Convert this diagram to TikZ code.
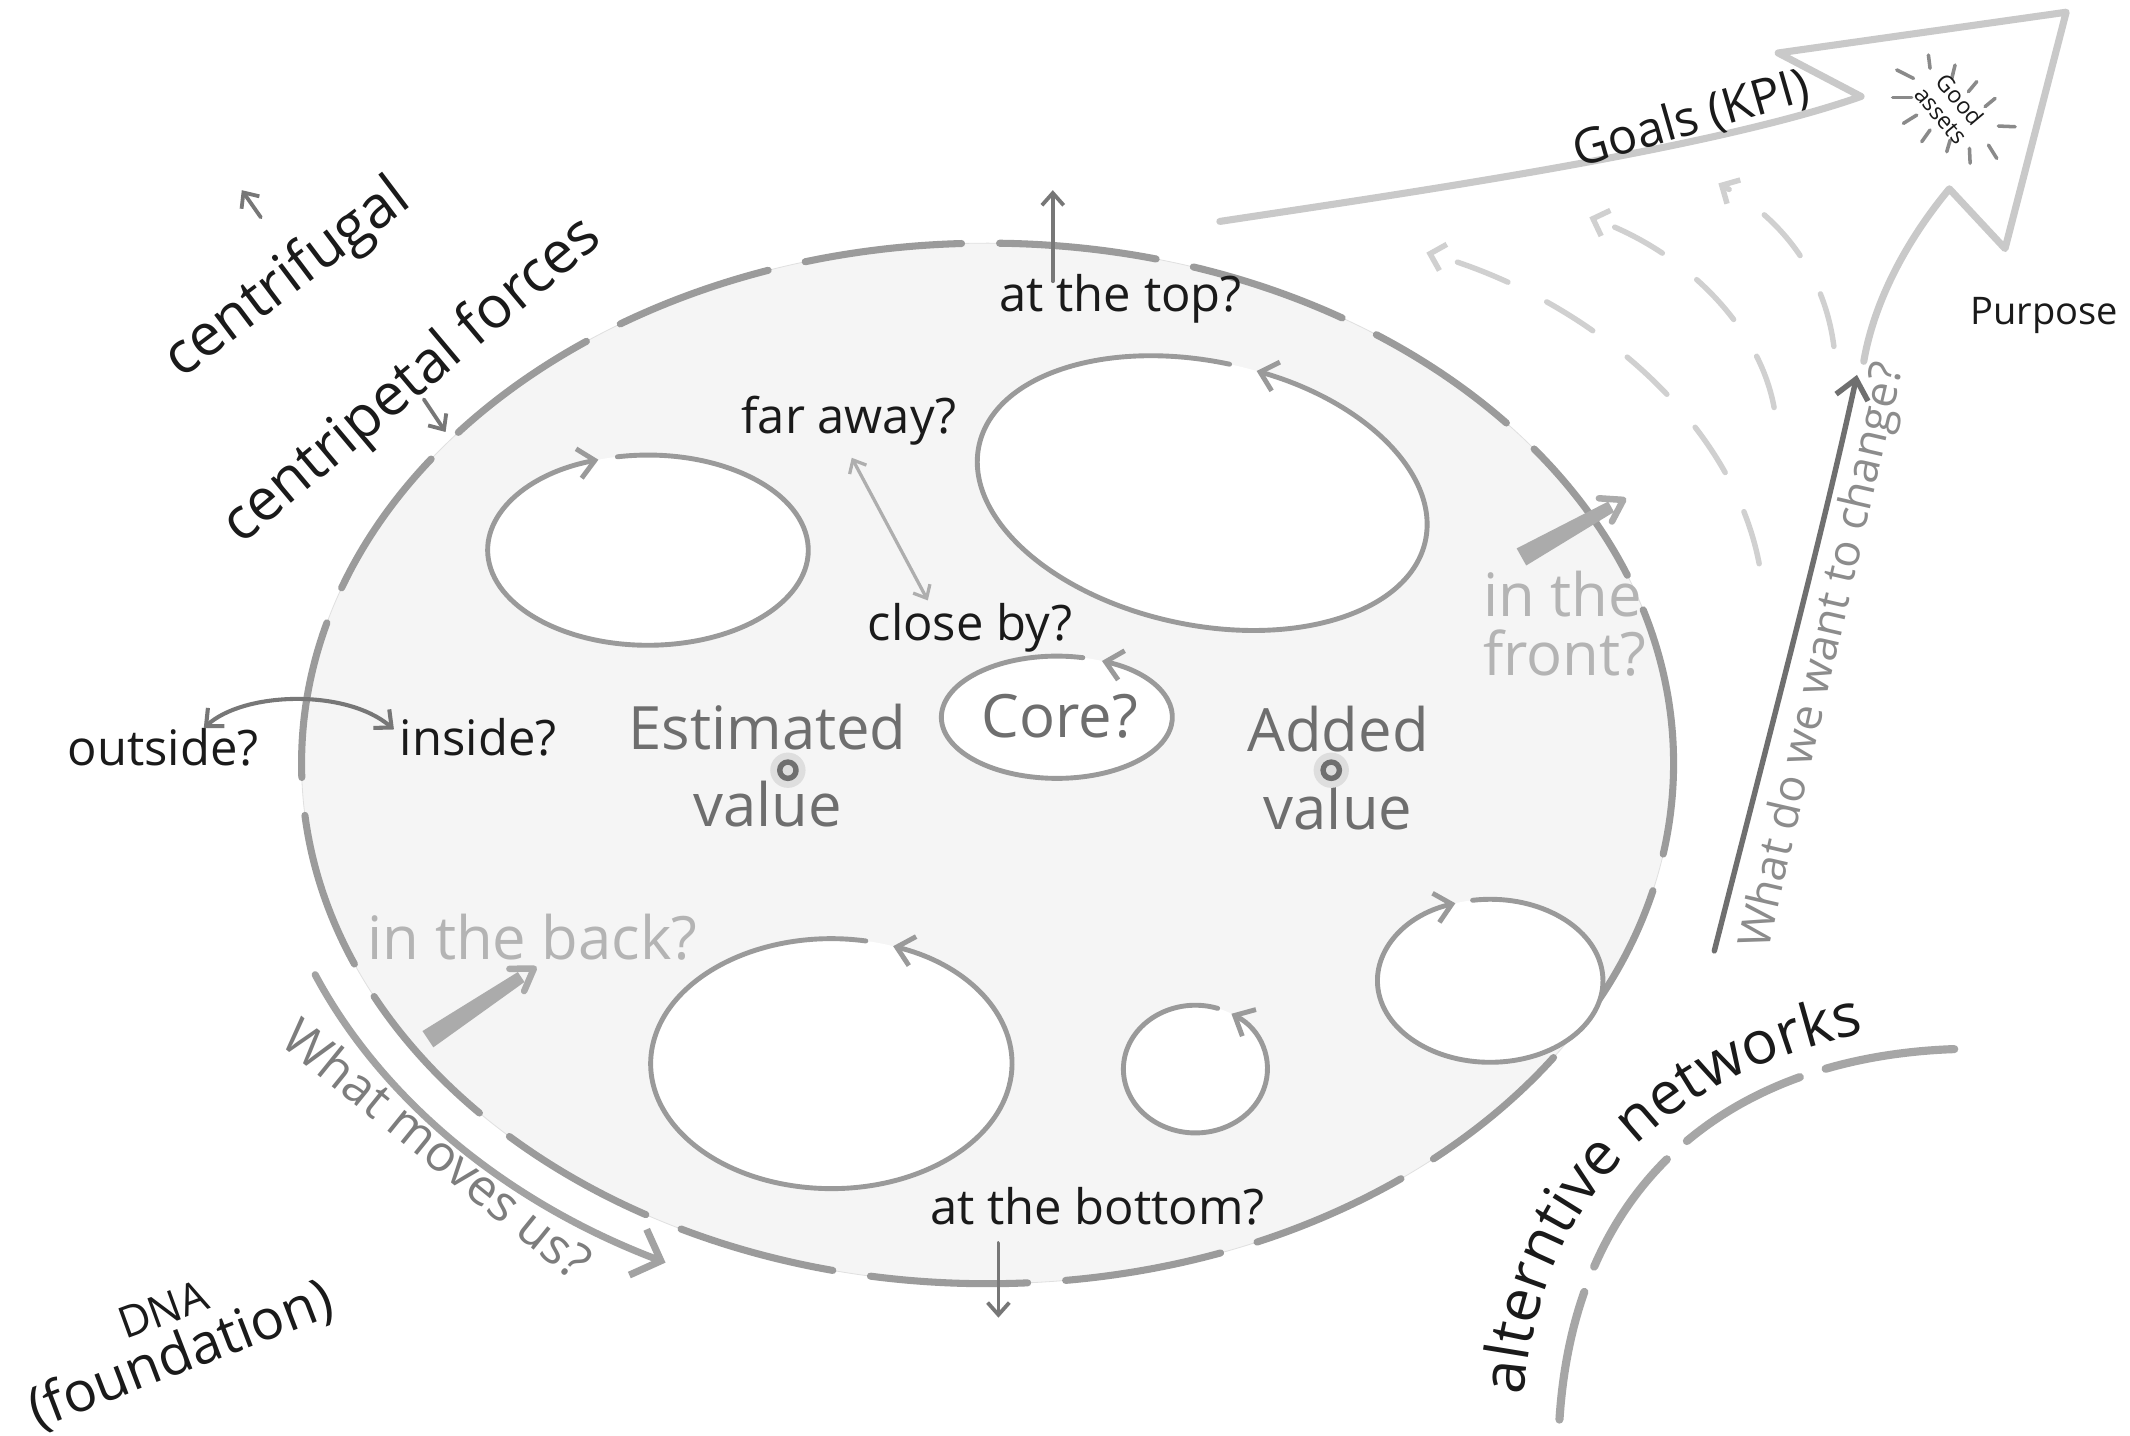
\documentclass[tikz,border=0pt]{standalone}
\usepackage{fontspec}
\setmainfont{Open Sans}
\usetikzlibrary{arrows.meta,calc,decorations.text}
\definecolor{ink}{HTML}{1A1A1A}
\definecolor{midtxt}{HTML}{6E6E6E}
\definecolor{lighttxt}{HTML}{B4B4B4}
\definecolor{movetxt}{HTML}{7D7D7D}
\definecolor{changetxt}{HTML}{8C8C8C}
\definecolor{fillgray}{HTML}{F5F5F5}
\definecolor{rimgray}{HTML}{9B9B9B}
\definecolor{loopgray}{HTML}{9A9A9A}
\definecolor{goalgray}{HTML}{C9C9C9}
\definecolor{fangray}{HTML}{D0D0D0}
\definecolor{darkline}{HTML}{6F6F6F}
\definecolor{arrgray}{HTML}{777777}
\definecolor{movegray}{HTML}{A2A2A2}
\definecolor{altgray}{HTML}{A6A6A6}
\definecolor{wedgegray}{HTML}{ABABAB}
\definecolor{halogray}{HTML}{DEDEDE}
\definecolor{raygray}{HTML}{8A8A8A}
\newcommand{\loopell}[7]{%
  \begin{scope}[shift={(#1,#2)}, rotate=#5]
    \fill[white] (0,0) ellipse [x radius=#3, y radius=#4];
    \draw[loopline] (#6:#3 and #4) arc [start angle=#6, end angle=#7, x radius=#3, y radius=#4];
  \end{scope}}
\begin{document}
\begin{tikzpicture}[x=0.5pt,y=0.5pt,line cap=round,line join=round,
  lbl/.style={font=\fontsize{18}{20}\selectfont, text=ink, inner sep=0pt},
  biglbl/.style={font=\fontsize{21.5}{23}\selectfont, text=ink, inner sep=0pt},
  glbl/.style={font=\fontsize{22}{22}\selectfont, text=midtxt, inner sep=0pt},
  llbl/.style={font=\fontsize{22}{21.5}\selectfont, text=lighttxt, inner sep=0pt},
  rim/.style={draw=rimgray, line width=2.6pt, dash pattern=on 58pt off 14pt},
  loopline/.style={draw=loopgray, line width=1.8pt, -{Straight Barb[length=6pt,width=11pt]}},
  darkarrow/.style={draw=arrgray, line width=1.4pt, -{Straight Barb[length=4.5pt,width=8pt]}},
  lightarrow/.style={draw=loopgray!80, line width=1.2pt, {Straight Barb[length=4pt,width=7pt]}-{Straight Barb[length=4pt,width=7pt]}},
  bothdark/.style={draw=arrgray, line width=1.5pt, {Straight Barb[length=5pt,width=9pt]}-{Straight Barb[length=5pt,width=9pt]}},
  goalline/.style={draw=goalgray, line width=2.6pt},
  fan/.style={draw=fangray, line width=2pt, dash pattern=on 20pt off 16pt, -{Straight Barb[length=5pt,width=10pt]}},
  changearrow/.style={draw=darkline, line width=2pt, -{Straight Barb[length=7pt,width=12pt]}},
  movesarrow/.style={draw=movegray, line width=2.6pt, -{Straight Barb[length=9pt,width=18pt]}},
  altline/.style={draw=altgray, line width=3pt, dash pattern=on 48pt off 10pt},
  ray/.style={draw=raygray, line width=1.3pt},
  halo/.style={fill=halogray},
  ring/.style={draw=darkline, line width=2pt}
]
\fill[white] (0,0) rectangle (1568,1057);
\useasboundingbox (0,0) rectangle (1568,1057);

% main ellipse
\fill[fillgray, draw=black!12, line width=0.3pt] (727,495) ellipse [x radius=505, y radius=383];
\draw[rim] (727,495) ellipse [x radius=505, y radius=383];

% inner loops
\loopell{477}{652}{118}{70}{0}{101}{-252}
\loopell{885}{694}{168}{97}{-12}{90}{443}
\loopell{778}{529}{85}{45}{0}{77}{427}
\loopell{612}{274}{133}{92}{0}{79}{430}
\loopell{880}{270}{53}{47}{0}{72}{420}
\loopell{1097}{335}{83}{60}{0}{99}{-252}

% goals arrow
\draw[goalline] (898,894) .. controls (1030,914) and (1260,947) .. (1370,986)
  -- (1309,1018) -- (1521,1048) -- (1476,874) -- (1435,918)
  .. controls (1405,882) and (1380,837) .. (1372,791);

% fan arrows
\coordinate (fanA) at (1295,642);
\coordinate (fanAe) at (1050,871);
\coordinate (fanB) at (1306,757);
\coordinate (fanBe) at (1170,897);
\coordinate (fanC) at (1350,802);
\coordinate (fanCe) at (1265,922);
\draw[fan] (fanA) .. controls (1275,747) and (1170,837) .. (fanAe);
\draw[fan] (fanB) .. controls (1295,817) and (1240,872) .. (fanBe);
\draw[fan] (fanC) .. controls (1343,857) and (1310,897) .. (fanCe);

% good assets
\draw[ray] (1419.6,1016.5) -- (1420.8,1006.7);
\draw[ray] (1439.2,1009.1) -- (1436.8,999.3);
\draw[ray] (1455.2,996.9) -- (1449.0,989.5);
\draw[ray] (1468.7,984.6) -- (1461.3,978.5);
\draw[ray] (1483.4,963.7) -- (1471.1,964.2);
\draw[ray] (1469.9,940.4) -- (1463.8,950.2);
\draw[ray] (1450.3,936.8) -- (1449.8,947.8);
\draw[ray] (1433.1,945.3) -- (1435.6,953.9);
\draw[ray] (1414.7,952.7) -- (1420.8,961.3);
\draw[ray] (1401.2,966.2) -- (1411.0,972.3);
\draw[ray] (1393.3,985.1) -- (1407.3,985.1);
\draw[ray] (1396.3,1005.5) -- (1408.6,999.3);
\node[font=\fontsize{8.5}{9}\selectfont, text=ink, align=center, rotate=-50, inner sep=0pt] (good) at (1436,978) {Good\\assets};

% what do we want to change
\coordinate (chS) at (1262,357);
\coordinate (chE) at (1367,781);
\draw[changearrow] (chS) .. controls (1300,507) and (1340,657) .. (chE);
\node[font=\fontsize{16.5}{18}\selectfont, text=changetxt, rotate=77, inner sep=0pt] (change) at (1343,574) {What do we want to change?};

% what moves us
\coordinate (mvS) at (232,339.5);
\draw[movesarrow] (mvS) arc [start angle=202.3, end angle=243.7, x radius=535, y radius=410];
\node[font=\fontsize{18.5}{20}\selectfont, text=movetxt, rotate=-39, inner sep=0pt] (moves) at (322,212) {What moves us?};

% alternative networks
\draw[altline] (1148,12) .. controls (1160,200) and (1290,285) .. (1455,285);
\path[decorate, decoration={text along path, text align=left, text color=ink,
  text={|\fontsize{22}{24}\selectfont|alterntive networks}}]
  (1122,30) .. controls (1136,215) and (1285,304) .. (1470,306);

% wedge arrows
\coordinate (bA) at (315,292);
\coordinate (bT) at (393,344);
\coordinate (bS) at ($(bA)!0.88!(bT)$);
\fill[wedgegray] ($(bA)!3.6pt!90:(bT)$) -- ($(bS)!2.2pt!-90:(bA)$) -- ($(bS)!2.2pt!90:(bA)$) -- ($(bA)!3.6pt!-90:(bT)$) -- cycle;
\draw[wedgegray, line width=2.4pt] ($(bT)!9pt!33:(bA)$) -- (bT) -- ($(bT)!9pt!-33:(bA)$);
\coordinate (fA) at (1120,647);
\coordinate (fT) at (1195,689);
\coordinate (fS) at ($(fA)!0.88!(fT)$);
\fill[wedgegray] ($(fA)!3.6pt!90:(fT)$) -- ($(fS)!2.2pt!-90:(fA)$) -- ($(fS)!2.2pt!90:(fA)$) -- ($(fA)!3.6pt!-90:(fT)$) -- cycle;
\draw[wedgegray, line width=2.4pt] ($(fT)!9pt!33:(fA)$) -- (fT) -- ($(fT)!9pt!-33:(fA)$);

% labels
\node[biglbl, rotate=37] (cfug) at (212,851) {centrifugal};
\node[biglbl, rotate=40] (cpet) at (304,776) {centripetal forces};
\draw[darkarrow] (192,897) -- (178,917);
\draw[darkarrow] (312,763) -- (328,739);

\node[lbl] (top) at (825,837) {at the top?};
\coordinate (topA) at (775,850);
\coordinate (topB) at (775,917);
\draw[darkarrow] (topA) -- (topB);

\node[lbl] (far) at (625,747) {far away?};
\node[lbl] (close) at (714,595) {close by?};
\coordinate (fcA) at (627,720);
\coordinate (fcB) at (683,615);
\draw[lightarrow] (fcA) -- (fcB);

\node[lbl] (outs) at (120,507) {outside?};
\node[lbl] (ins) at (352,514) {inside?};
\coordinate (oiA) at (150,521);
\coordinate (oiB) at (290,520);
\draw[bothdark] (oiA) .. controls (180,548) and (255,550) .. (oiB);

\node[glbl] (est) at (565,522) {Estimated};
\node[glbl] (estv) at (565,465) {value};
\fill[halo] (580,490) circle (6.5pt);
\draw[ring] (580,490) circle (3pt);
\node[glbl] (core) at (780,530) {Core?};
\node[glbl] (add) at (985,520) {Added};
\node[glbl] (addv) at (985,463) {value};
\fill[halo] (980,490) circle (6.5pt);
\draw[ring] (980,490) circle (3pt);

\node[llbl, align=left] (front) at (1152,598) {in the\\front?};
\node[llbl] (back) at (392,367) {in the back?};

\node[lbl] (bottom) at (808,169) {at the bottom?};
\coordinate (botA) at (735,142);
\coordinate (botB) at (735,87);
\draw[darkarrow] (botA) -- (botB);

\node[font=\fontsize{16}{18}\selectfont, text=ink, rotate=20, inner sep=0pt] (dna) at (120,93) {DNA};
\node[font=\fontsize{20.5}{22}\selectfont, text=ink, inner sep=0pt, rotate=21] (found) at (133,59) {(foundation)};

\node[lbl, rotate=16] (goals) at (1245,969) {Goals (KPI)};
\node[font=\fontsize{14}{16}\selectfont, text=ink, inner sep=0pt] (purpose) at (1505,825) {Purpose};
\end{tikzpicture}
\end{document}
